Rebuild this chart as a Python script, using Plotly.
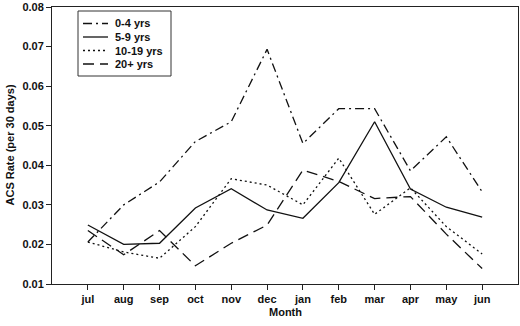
import plotly.graph_objects as go

months = ["jul", "aug", "sep", "oct", "nov", "dec", "jan", "feb", "mar", "apr", "may", "jun"]
age_0_4 = [0.0206, 0.0300, 0.0358, 0.0460, 0.0510, 0.0693, 0.0455, 0.0543, 0.0543, 0.0386, 0.0472, 0.0333]
age_5_9 = [0.0249, 0.0200, 0.0203, 0.0292, 0.0341, 0.0287, 0.0266, 0.0356, 0.0510, 0.0340, 0.0294, 0.0269]
age_10_19 = [0.0206, 0.0181, 0.0165, 0.0245, 0.0366, 0.0350, 0.0300, 0.0418, 0.0276, 0.0343, 0.0245, 0.0176]
age_20p = [0.0235, 0.0174, 0.0235, 0.0146, 0.0203, 0.0249, 0.0388, 0.0359, 0.0316, 0.0321, 0.0226, 0.0139]

series_names = ["0-4 yrs", "5-9 yrs", "10-19 yrs", "20+ yrs"]
series_values = [age_0_4, age_5_9, age_10_19, age_20p]
series_dashes = ["9px,4px,2px,4px", "solid", "2px,3px", "11px,6px"]

FONT = "Liberation Sans, Arial, sans-serif"
INK = "#111111"
x_idx = list(range(len(months)))

W, H = 520, 326
ML, MR, MT, MB = 52, 2, 7, 42
PW, PH = W - ML - MR, H - MT - MB


def px_x(p):
    return (p - ML) / PW


def px_y(p):
    return (H - MB - p) / PH


fig = go.Figure()
for name, vals, dash in zip(series_names, series_values, series_dashes):
    fig.add_trace(go.Scatter(
        x=x_idx, y=vals, mode="lines", name=name,
        line=dict(color=INK, width=1.3, dash=dash),
    ))

# custom legend (box, line samples, labels)
shapes = [dict(type="rect", xref="paper", yref="paper",
               x0=px_x(78), x1=px_x(171), y0=px_y(76), y1=px_y(11),
               line=dict(color="#333333", width=1), fillcolor="white", layer="above")]
annotations = []
row_y = [23.5, 37, 50.5, 64]
for name, dash, ry in zip(series_names, series_dashes, row_y):
    shapes.append(dict(type="line", xref="paper", yref="paper",
                       x0=px_x(83), x1=px_x(108), y0=px_y(ry), y1=px_y(ry),
                       line=dict(color=INK, width=1.3, dash=dash), layer="above"))
    annotations.append(dict(xref="paper", yref="paper", x=px_x(113), y=px_y(ry),
                            xanchor="left", yanchor="middle", showarrow=False,
                            text=name, font=dict(family=FONT, size=11, color=INK, weight="bold")))

# axis titles
annotations.append(dict(xref="paper", yref="paper", x=0.5, y=px_y(312),
                        xanchor="center", yanchor="middle", showarrow=False,
                        text="Month", font=dict(family=FONT, size=11, color=INK, weight="bold")))
annotations.append(dict(xref="paper", yref="paper", x=px_x(9), y=0.5,
                        xanchor="center", yanchor="middle", showarrow=False, textangle=-90,
                        text="ACS Rate (per 30 days)", font=dict(family=FONT, size=11, color=INK, weight="bold")))

fig.update_layout(
    width=W, height=H,
    margin=dict(l=ML, r=MR, t=MT, b=MB),
    paper_bgcolor="white", plot_bgcolor="white",
    font=dict(family=FONT, size=11, color=INK),
    showlegend=False,
    shapes=shapes,
    annotations=annotations,
    xaxis=dict(
        range=[-1, 12], tickmode="array", tickvals=x_idx, ticktext=months,
        showgrid=False, zeroline=False, automargin=False,
        showline=True, linecolor="#222222", linewidth=1, mirror=True,
        ticks="outside", ticklen=5, tickcolor="#222222",
        tickfont=dict(family=FONT, size=11, weight="bold"),
    ),
    yaxis=dict(
        range=[0.01, 0.08], dtick=0.01, tick0=0.01, tickformat=".2f",
        showgrid=False, zeroline=False, automargin=False,
        showline=True, linecolor="#222222", linewidth=1, mirror=True,
        ticks="outside", ticklen=5, tickcolor="#222222",
        tickfont=dict(family=FONT, size=11, weight="bold"),
    ),
)

fig.write_html("out.html", config={"displayModeBar": False},
               post_script="document.body.style.margin='0';document.body.style.padding='0';")
